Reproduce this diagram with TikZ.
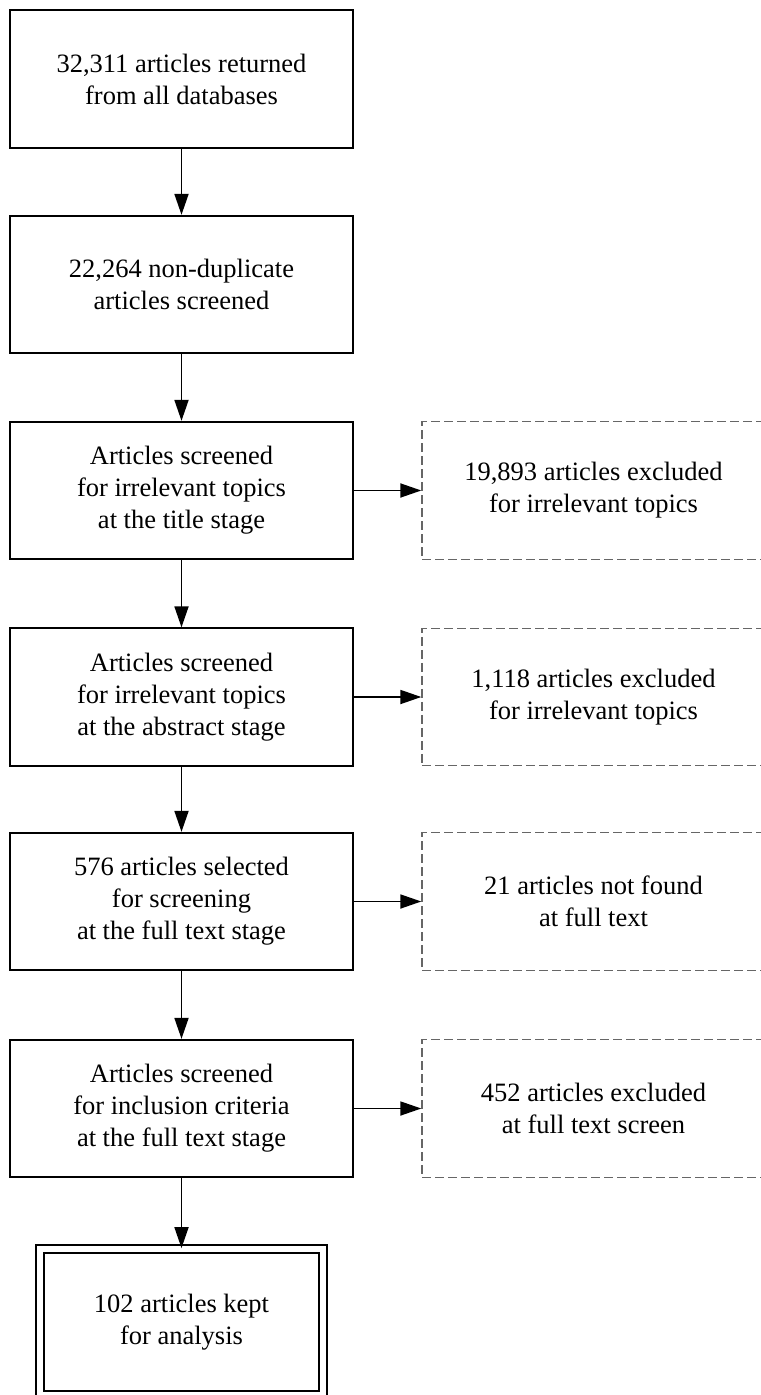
\documentclass[tikz,border=0pt]{standalone}
\usepackage{fontspec}
\setmainfont{Liberation Serif}
\usetikzlibrary{arrows.meta}
\begin{document}
\begin{tikzpicture}[x=0.5pt,y=-0.5pt,>={Triangle[length=10.5pt,width=7pt]}]
	% styles
	\tikzstyle{stage} = [draw,line width=0.9pt,minimum width=171.5pt,minimum height=68.75pt,inner sep=0pt,align=center,font=\fontsize{13.25pt}{16pt}\selectfont]
	\tikzstyle{excl} = [stage,draw=black!60,line width=0.7pt,dash pattern=on 4.5pt off 2pt]
	\tikzstyle{final} = [stage,double,double distance=3.1pt,minimum width=141.5pt,minimum height=73pt]
	\tikzstyle{flow} = [line width=0.9pt,->]

	% bounding box
	\path[fill=white] (0,0) rectangle (760,1395);
	\useasboundingbox (0,0) rectangle (760,1395);

	% main stages
	\node[stage] (returned) at (181.5,79) {32,311 articles returned\\from all databases};
	\node[stage] (unique) at (181.5,284.5) {22,264 non-duplicate\\articles screened};
	\node[stage] (title) at (181.5,490.5) {Articles screened\\for irrelevant topics\\at the title stage};
	\node[stage] (abstract) at (181.5,697) {Articles screened\\for irrelevant topics\\at the abstract stage};
	\node[stage] (selected) at (181.5,901.5) {576 articles selected\\for screening\\at the full text stage};
	\node[stage] (fulltext) at (181.5,1108.5) {Articles screened\\for inclusion criteria\\at the full text stage};
	\node[final] (kept) at (181.5,1322) {102 articles kept\\for analysis};

	% exclusions
	\node[excl] (xtitle) at (593.5,490.5) {19,893 articles excluded\\for irrelevant topics};
	\node[excl] (xabstract) at (593.5,697) {1,118 articles excluded\\for irrelevant topics};
	\node[excl] (xmissing) at (593.5,901.5) {21 articles not found\\at full text};
	\node[excl] (xfulltext) at (593.5,1108.5) {452 articles excluded\\at full text screen};

	% arrows
	\draw[flow] (returned) -- (unique);
	\draw[flow] (unique) -- (title);
	\draw[flow] (title) -- (abstract);
	\draw[flow] (abstract) -- (selected);
	\draw[flow] (selected) -- (fulltext);
	\draw[flow] (fulltext) -- (kept);
	\draw[flow] (title) -- (xtitle);
	\draw[flow] (abstract) -- (xabstract);
	\draw[flow] (selected) -- (xmissing);
	\draw[flow] (fulltext) -- (xfulltext);
\end{tikzpicture}
\end{document}
